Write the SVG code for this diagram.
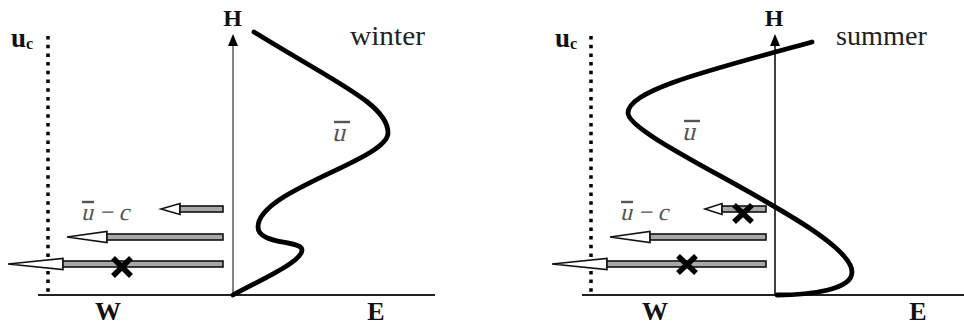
<svg xmlns="http://www.w3.org/2000/svg" width="964" height="325" viewBox="0 0 964 325">
<defs>
<style>
.lbl{font-family:"Liberation Serif","Times New Roman",serif;font-weight:bold;fill:#111}
.season{font-family:"Liberation Serif","Times New Roman",serif;font-size:28px;fill:#222}
.ubar{font-family:"Liberation Serif","Times New Roman",serif;fill:#555}
.bar{stroke:#555;stroke-width:2.4}
.axis{stroke:#222;stroke-width:1.8;fill:none}
.dots{stroke:#000;stroke-width:3.5;stroke-dasharray:3.5 5.2;fill:none}
.curve{stroke:#000;stroke-width:4.8;fill:none;stroke-linecap:round}
.head{fill:#fff;stroke:#111;stroke-width:1.6;stroke-linejoin:miter}
.shaft{fill:#a8a8a8;stroke:#111;stroke-width:1.6}
.xm{stroke:#000;stroke-width:5.5;stroke-linecap:butt}
</style>
</defs>

<!-- WINTER PANEL -->
<g id="winter-axes">
<line class="axis" x1="38" y1="295" x2="435" y2="295"/>
<line x1="233" y1="295" x2="233" y2="46" stroke="#666" stroke-width="1.6"/>
<path d="M228,46 L233,34 L238,46 Z" fill="#000"/>
<line class="dots" x1="48" y1="36" x2="48" y2="295"/>
</g>
<g id="winter-labels">
<text class="lbl" x="232.5" y="26" font-size="24" text-anchor="middle">H</text>
<text class="lbl" x="11" y="47" font-size="27">u<tspan font-size="16" dy="2">c</tspan></text>
<text class="lbl" x="108" y="320" font-size="26" text-anchor="middle">W</text>
<text class="lbl" x="376" y="320" font-size="26" text-anchor="middle">E</text>
<text class="season" x="350" y="45" textLength="75" lengthAdjust="spacingAndGlyphs">winter</text>
<text class="ubar" transform="translate(332,141) skewX(-14)" font-size="26">u</text>
<line class="bar" x1="334" y1="122" x2="350" y2="122"/>
<text class="ubar" transform="translate(81,220) skewX(-14)" font-size="24">u − c</text>
<line class="bar" x1="82" y1="202" x2="94" y2="202"/>
</g>
<g id="winter-profile">
<path class="curve" d="M254,32 C340,85 388,105 388,133 C388,160 258,190 258,227 C258,245 302,240 302,250 C302,262 260,280 233,295"/>
</g>
<g id="winter-arrows">
<path class="head" d="M161,209 L180,203.5 L180,214.5 Z"/>
<rect class="shaft" x="180" y="206" width="43" height="6"/>
<path class="head" d="M67,237 L107,231.5 L107,242.5 Z"/>
<rect class="shaft" x="107" y="234" width="116" height="6"/>
<path class="head" d="M8,264 L63,258.5 L63,269.5 Z"/>
<rect class="shaft" x="63" y="261" width="160" height="6"/>
<g id="winter-x1"><line class="xm" x1="113" y1="258" x2="131" y2="276"/><line class="xm" x1="131" y1="258" x2="113" y2="276"/></g>
</g>

<!-- SUMMER PANEL -->
<g id="summer-axes">
<line class="axis" x1="582" y1="295" x2="964" y2="295"/>
<line x1="775" y1="295" x2="775" y2="46" stroke="#111" stroke-width="1.6"/>
<path d="M770,46 L775,34 L780,46 Z" fill="#000"/>
<line class="dots" x1="591" y1="36" x2="591" y2="295"/>
</g>
<g id="summer-labels">
<text class="lbl" x="774" y="26" font-size="24" text-anchor="middle">H</text>
<text class="lbl" x="555" y="47" font-size="27">u<tspan font-size="16" dy="2">c</tspan></text>
<text class="lbl" x="655" y="320" font-size="26" text-anchor="middle">W</text>
<text class="lbl" x="918" y="320" font-size="26" text-anchor="middle">E</text>
<text class="season" x="836" y="45" textLength="91" lengthAdjust="spacingAndGlyphs">summer</text>
<text class="ubar" transform="translate(682,140) skewX(-14)" font-size="26">u</text>
<line class="bar" x1="684" y1="121" x2="700" y2="121"/>
<text class="ubar" transform="translate(620,220) skewX(-14)" font-size="24">u − c</text>
<line class="bar" x1="621" y1="202" x2="633" y2="202"/>
</g>
<g id="summer-arrows">
<path class="head" d="M705,209 L722,203.5 L722,214.5 Z"/>
<rect class="shaft" x="722" y="206" width="44" height="6"/>
<path class="head" d="M610,237 L650,231.5 L650,242.5 Z"/>
<rect class="shaft" x="650" y="234" width="116" height="6"/>
<path class="head" d="M552,264 L607,258.5 L607,269.5 Z"/>
<rect class="shaft" x="607" y="261" width="159" height="6"/>
</g>
<g id="summer-profile">
<path class="curve" d="M812,42 C710,70 628,90 628,113 C628,140 852,230 852,272 C852,290 810,295 777,295"/>
</g>
<g id="summer-marks">
<g id="summer-x1"><line class="xm" x1="734" y1="205" x2="752" y2="222"/><line class="xm" x1="752" y1="205" x2="734" y2="222"/></g>
<g id="summer-x2"><line class="xm" x1="678" y1="256" x2="696" y2="273"/><line class="xm" x1="696" y1="256" x2="678" y2="273"/></g>
</g>
</svg>
